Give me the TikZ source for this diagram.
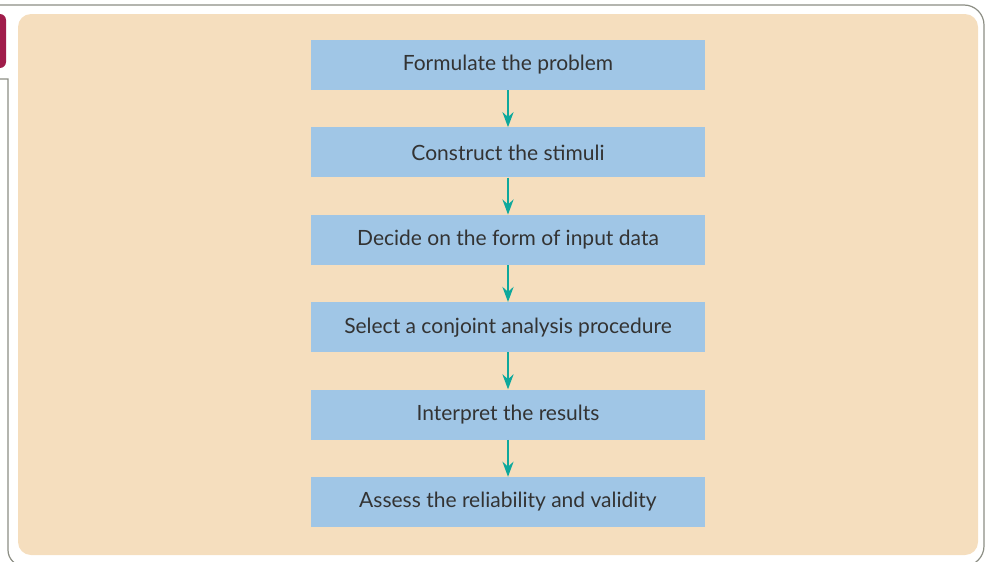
\documentclass[tikz,border=0pt]{standalone}
\usepackage{fontspec}
\setmainfont{Lato}
\usetikzlibrary{positioning,arrows.meta}
\definecolor{panelpeach}{HTML}{F5DEBE}
\definecolor{stageblue}{HTML}{A0C6E6}
\definecolor{flowteal}{HTML}{0EA89C}
\definecolor{tabred}{HTML}{A01C4A}
\definecolor{framegray}{HTML}{8C8E84}
\tikzset{
  stagebox/.style={fill=stageblue, minimum width=394pt, minimum height=50pt,
    inner sep=0pt, font=\fontsize{21}{24}\selectfont, text=black!80},
  flow/.style={-{Stealth[length=15pt,width=11pt]}, line width=2.6pt, color=flowteal}
}
\begin{document}
\begin{tikzpicture}[x=1pt, y=-1pt]
    \useasboundingbox (0,0) rectangle (986,562);
    % outer frame and tab
    \draw[framegray, line width=1.2pt, rounded corners=20pt] (-10,5) -- (984,5) -- (984,566) -- (900,566);
    \draw[framegray, line width=1.2pt] (0,79) -- (8,79) [rounded corners=16pt] -- (8,566) -- (60,566);
    \fill[tabred, rounded corners=6pt] (-8,14) rectangle (6,68);
    \fill[panelpeach, rounded corners=13pt] (18,14) rectangle (978,555);
    % stages
    \node[stagebox] (formulate) at (508,65) {Formulate the problem};
    \node[stagebox, below=37pt of formulate] (construct) {Construct the stimuli};
    \node[stagebox, below=37pt of construct] (decide) {Decide on the form of input data};
    \node[stagebox, below=37pt of decide] (select) {Select a conjoint analysis procedure};
    \node[stagebox, below=37pt of select] (interpret) {Interpret the results};
    \node[stagebox, below=37pt of interpret] (assess) {Assess the reliability and validity};
    \foreach \a/\b in {formulate/construct, construct/decide, decide/select, select/interpret, interpret/assess}
        \draw[flow] (\a) -- (\b);
\end{tikzpicture}
\end{document}
